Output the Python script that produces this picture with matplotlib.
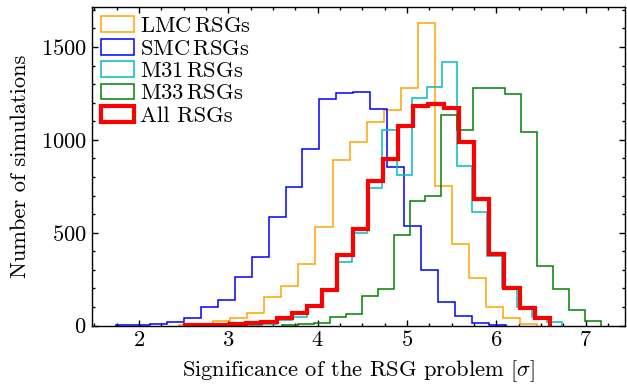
import numpy as np
import matplotlib
matplotlib.use("Agg")
import matplotlib.pyplot as plt
from matplotlib.ticker import MultipleLocator

plt.rcParams['font.family'] = 'serif'
plt.rcParams['font.serif'] = ['cmr10']
plt.rcParams['mathtext.fontset'] = 'cm'
plt.rcParams['axes.formatter.use_mathtext'] = True

# ---- data (bin range and counts per sample) ----
lmc_range = (2.446, 6.46)
lmc_counts = [3, 9, 23, 41, 70, 151, 212, 332, 532, 889, 986, 1095, 1159,
              1282, 1632, 754, 438, 255, 102, 38, 9]

smc_range = (1.74, 6.11)
smc_counts = [2, 3, 8, 18, 43, 99, 138, 259, 368, 585, 748, 950, 1221, 1251,
              1257, 1165, 856, 535, 300, 129, 52, 13, 5]

m31_range = (3.213, 6.73)
m31_counts = [3, 8, 31, 48, 103, 185, 340, 497, 740, 1054, 811, 1224, 1286,
              1422, 858, 611, 372, 210, 99, 48, 21]

m33_range = (3.60, 7.17)
m33_counts = [4, 10, 14, 44, 63, 158, 199, 488, 670, 698, 1135, 1054, 1280,
              1280, 1248, 1041, 323, 197, 84, 27]

all_range = (2.52, 6.60)
all_counts = [2, 3, 5, 8, 13, 20, 40, 70, 106, 192, 381, 520, 781, 899, 1072,
              1180, 1192, 1170, 991, 680, 383, 201, 93, 40]

labels = [r"LMC$\,$RSGs", r"SMC$\,$RSGs", r"M31$\,$RSGs", r"M33$\,$RSGs", "All RSGs"]

series = [
    (lmc_range, lmc_counts, 'orange', 1.1),
    (smc_range, smc_counts, 'blue', 1.1),
    (m31_range, m31_counts, 'c', 1.1),
    (m33_range, m33_counts, 'green', 1.1),
    (all_range, all_counts, 'red', 3.0),
]

FS = 16.2

fig = plt.figure(figsize=(6.27, 3.88), dpi=100)
ax = fig.add_axes([0.146, 0.161, 0.851, 0.820])

for (rng, counts, color, lw), lab in zip(series, labels):
    counts = np.asarray(counts, dtype=float)
    edges = np.linspace(rng[0], rng[1], len(counts) + 1)
    centers = 0.5 * (edges[:-1] + edges[1:])
    ax.hist(centers, bins=edges, weights=counts, histtype='step',
            color=color, lw=lw, label=lab)

ax.set_ylim(bottom=0)
ax.xaxis.set_major_locator(MultipleLocator(1))
ax.xaxis.set_minor_locator(MultipleLocator(0.25))
ax.yaxis.set_major_locator(MultipleLocator(500))
ax.yaxis.set_minor_locator(MultipleLocator(100))
ax.tick_params(which='both', direction='in', top=True, right=True,
               labelsize=FS, width=1.0)
ax.tick_params(which='major', length=4.5)
ax.tick_params(which='minor', length=2.5)
for s in ax.spines.values():
    s.set_linewidth(1.0)

ax.set_xlabel(r"Significance of the RSG problem $[\sigma]$", fontsize=FS, labelpad=6)
ax.set_ylabel("Number of simulations", fontsize=FS, labelpad=8)

ax.legend(loc='upper left', frameon=False, fontsize=FS, handlelength=1.5,
          handletextpad=0.25, labelspacing=0.12, borderaxespad=0.1,
          borderpad=0.3)

fig.savefig("out.png", dpi=100)
